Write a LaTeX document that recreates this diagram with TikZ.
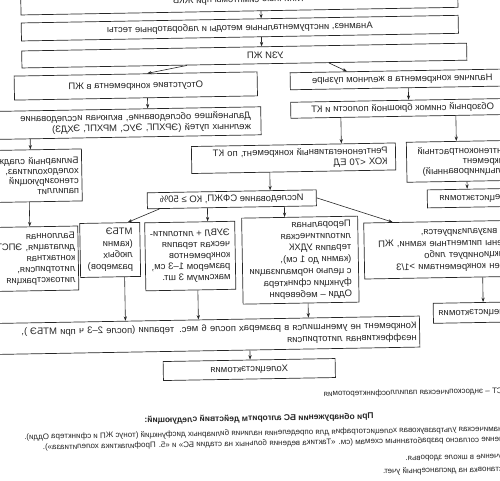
\documentclass[tikz,border=0pt]{standalone}
\usepackage{fontspec}
\setmainfont{Liberation Sans}
\usetikzlibrary{arrows.meta}

\tikzset{
  box/.style={draw=black!85, line width=0.7pt, text=black!85, inner sep=0pt,
    font=\fontsize{9.5}{11}\selectfont, align=center},
  cutbox/.style={box, align=left},
  arr/.style={draw=black!85, line width=0.6pt, -{Stealth[length=4.5pt,width=3.2pt]}},
  note/.style={text=black!85, inner sep=0pt, font=\fontsize{8}{9.6}\selectfont}
}

\begin{document}
\begin{tikzpicture}[x=1pt, y=-1pt]
\useasboundingbox (0,0) rectangle (500,480);
\clip (0,0) rectangle (500,480);
\begin{scope}[rotate around={1:(250,240)}]
\begin{scope}[xshift=500pt, xscale=-1, transform shape]
  % boxes
  \node[box, minimum width=437pt, minimum height=22pt] (susp) at (256.5,0) {Типичные симптомы при ЖКБ};
  \node[box, minimum width=437pt, minimum height=18pt] (hist) at (256.5,28) {Анамнез, инструментальные методы и лабораторные тесты};
  \node[box, minimum width=445pt, minimum height=17pt] (usg) at (252.5,55.5) {УЗИ ЖП\hspace*{42pt}};
  \node[box, minimum width=243pt, minimum height=24pt] (nost) at (361.5,84) {Отсутствие конкремента в ЖП};
  \node[box, minimum width=224pt, minimum height=17pt] (stone) at (95,82) {Наличие конкремента в желчном пузыре};
  \node[cutbox, text width=263pt, inner xsep=10pt, minimum height=28pt] (exam) at (378.5,121)
    {Дальнейшее обследование, включая исследование\\желчных путей (ЭРХПГ, ЭУС, МРХПГ, ЭХДЗ)};
  \node[box, minimum width=224pt, minimum height=16pt] (xray) at (95,111) {Обзорный снимок брюшной полости и КТ};
  \node[cutbox, text width=188pt, inner xsep=8pt, minimum height=27pt] (neg) at (205,159)
    {Рентгенонегативный конкремент, по КТ\\КОХ <70 ЕД};
  \node[cutbox, text width=102pt, inner xsep=5pt, minimum height=40pt, font=\fontsize{9.5}{10}\selectfont] (pos) at (36,165)
    {Рентгеноконтрастный\\конкремент\\(кальцинированный)};
  \node[box, minimum width=102pt, minimum height=18pt] (chol1) at (21,202) {Холецистэктомия};
  \node[cutbox, text width=97pt, inner xsep=3pt, minimum height=52pt, font=\fontsize{9.5}{10}\selectfont] (sludge) at (468.5,172)
    {Билиарный сладж,\\холедохолитиаз,\\стенозирующий\\папиллит};
  \node[cutbox, text width=92pt, inner xsep=3pt, minimum height=64pt] (endo) at (471,255)
    {Баллонная\\дилатация, ЭПСТ,\\контактная\\литотрипсия,\\литоэкстракция};
  \node[box, minimum width=169pt, minimum height=16pt] (func) at (267.5,199) {Исследование СФЖП, КО ≥ 50\%};
  \node[box, align=left, minimum width=60pt, minimum height=54pt, font=\fontsize{9.5}{11.5}\selectfont] (mtbe) at (390,247.5)
    {МТБЭ\\(камни\\любых\\размеров)};
  \node[box, align=left, minimum width=90pt, minimum height=68pt] (eswl) at (310,255)
    {ЭУВЛ + литолити-\\ческая терапия\\конкрементов\\размером 1–3 см,\\максимум 3 шт.};
  \node[box, align=left, minimum width=116pt, minimum height=86pt, font=\fontsize{9.5}{11.7}\selectfont] (oral) at (200,261)
    {Пероральная\\литолитическая\\терапия УДХК\\(камни до 1 см),\\с целью нормализации\\функции сфинктера\\Одди – мебеверин};
  \node[cutbox, text width=164pt, inner xsep=2pt, minimum height=56pt, font=\fontsize{9.5}{11.7}\selectfont] (nonvis) at (52,253)
    {ЖП не визуализируется,\\выявлены пигментные камни, ЖП\\не функционирует либо\\заполнен конкрементами >1/3};
  \node[box, minimum width=88pt, minimum height=20pt] (chol2) at (24,316.5) {Холецистэктомия};
  \node[cutbox, text width=432pt, inner xsep=3pt, minimum height=31pt, font=\fontsize{9.5}{12}\selectfont] (fail) at (301,334.5)
    {Конкремент не уменьшился в размерах после 6 мес. терапии (после 2–3 ч при МТБЭ ),\\неэффективная литотрипсия};
  \node[box, minimum width=172pt, minimum height=19pt] (chol3) at (253,369.5) {Холецистэктомия};

  % notes
  \node[note, anchor=base west] (abbr) at (-11.5,397.5) {ЭПСТ – эндоскопическая папиллосфинктеротомия};
  \node[note, anchor=base, font=\bfseries\fontsize{8.5}{10}\selectfont] (algo) at (244,421) {При обнаружении БС алгоритм действий следующий:};
  \node[note, anchor=base west] (st1) at (-19,435.5) {1. Динамическая ультразвуковая холецистография для определения наличия билиарных дисфункций (тонус ЖП и сфинктера Одди).};
  \node[note, anchor=base west] (st2) at (-19,446) {2. Лечение согласно разработанным схемам (см. «Тактика ведения больных на стадии БС» и «5. Профилактика холелитиаза»).};
  \node[note, anchor=base west] (st3) at (-19,463) {3. Обучение в школе здоровья.};
  \node[note, anchor=base west] (st4) at (-19,476) {4. Постановка на диспансерный учет.};

  % arrow guides
  \foreach \n/\x/\y in {ha/235/15, hb/235/42, uc/310/64, ud/350/72, ue/168/64, uf/150/73,
      ng/350/104, sh/89/96, xi/157/130, xj/42/130, pk/32/186, el/468/142, sm/470/212,
      nn/229/180, fo/340/207, fp/372/220, fq/292/214, fr/215/212, fs/107/220, vt/18/295,
      mu/376/300, ev/303/305, ow/193/310, fx/252/354}
    \coordinate (\n) at (\x,\y);

  % arrows
  \draw[arr] (susp.south -| ha) -- (hist.north -| ha);
  \draw[arr] (hist.south -| hb) -- (usg.north -| hb);
  \draw[arr] (usg.south -| uc) -- (nost.north -| ud);
  \draw[arr] (usg.south -| ue) -- (stone.north -| uf);
  \draw[arr] (nost.south -| ng) -- (exam.north -| ng);
  \draw[arr] (stone.south -| sh) -- (xray.north -| sh);
  \draw[arr] (xray.south -| xi) -- (neg.north -| xi);
  \draw[arr] (xray.south -| xj) -- (pos.north -| xj);
  \draw[arr] (pos.south -| pk) -- (chol1.north -| pk);
  \draw[arr] (exam.south -| el) -- (sludge.north -| el);
  \draw[arr] (sludge.south -| sm) -- (endo.north -| sm);
  \draw[arr] (neg.south -| nn) -- (func.north -| nn);
  \draw[arr] (func.south -| fo) -- (mtbe.north -| fp);
  \draw[arr] (func.south -| fq) -- (eswl.north -| fq);
  \draw[arr] (func.south -| fr) -- (oral.north -| fr);
  \draw[arr] (func.west) -- (nonvis.north -| fs);
  \draw[arr] (nonvis.south -| vt) -- (chol2.north -| vt);
  \draw[arr] (mtbe.south -| mu) -- (fail.north -| mu);
  \draw[arr] (eswl.south -| ev) -- (fail.north -| ev);
  \draw[arr] (oral.south -| ow) -- (fail.north -| ow);
  \draw[arr] (fail.south -| fx) -- (chol3.north -| fx);
\end{scope}
\end{scope}
\end{tikzpicture}
\end{document}
